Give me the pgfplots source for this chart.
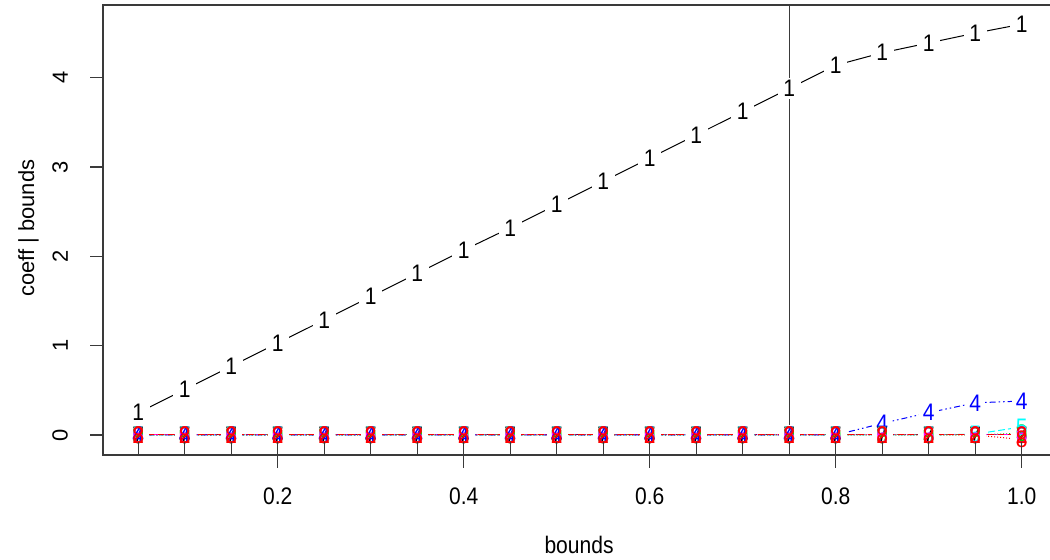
\documentclass[border=0pt]{standalone}
\usepackage{pgfplots}
\pgfplotsset{compat=1.18}
\usepackage{pgfplotstable}
\usepackage{fontspec}
\setmainfont{Liberation Sans}[Ligatures=NoCommon]
\newfontfamily\hf{Liberation Sans}[FakeStretch=0.88, Ligatures=NoCommon]
\definecolor{rgreen}{HTML}{00CD00}
\definecolor{rcyan}{HTML}{00FFFF}
\definecolor{rmag}{HTML}{FF00FF}
\definecolor{rred}{HTML}{FF0000}
\definecolor{rblue}{HTML}{0000FF}
\definecolor{axcol}{HTML}{3A3A3A}
\newcommand{\fs}{\fontsize{22}{26}\selectfont}
\newcommand{\hs}{\hf\fontsize{24}{28}\selectfont}

\pgfplotstableread{
x    s1   s2 s3   s4   s5   s6 s7 s8    s9
0.05 0.25 0  0    0    0    0  0  0     0
0.10 0.51 0  0    0    0    0  0  0     0
0.15 0.77 0  0    0    0    0  0  0     0
0.20 1.03 0  0    0    0    0  0  0     0
0.25 1.29 0  0    0    0    0  0  0     0
0.30 1.55 0  0    0    0    0  0  0     0
0.35 1.81 0  0    0    0    0  0  0     0
0.40 2.07 0  0    0    0    0  0  0     0
0.45 2.32 0  0    0    0    0  0  0     0
0.50 2.58 0  0    0    0    0  0  0     0
0.55 2.84 0  0    0    0    0  0  0     0
0.60 3.10 0  0    0    0    0  0  0     0
0.65 3.36 0  0    0    0    0  0  0     0
0.70 3.62 0  0    0    0    0  0  0     0
0.75 3.88 0  0    0    0    0  0  0     0
0.80 4.14 0  0    0    0    0  0  0     0
0.85 4.28 0  0    0.13 0    0  0  0     0
0.90 4.39 0  0    0.25 0    0  0  0     0
0.95 4.50 0  0    0.36 0.01 0  0  0     0
1.00 4.60 0  0.02 0.38 0.09 0  0  -0.05 0
}\data

\begin{document}
\begin{tikzpicture}
\begin{axis}[
  at={(103bp,105bp)}, anchor=south west,
  width=954bp, height=450bp, scale only axis,
  xmin=0.012, xmax=1.038, ymin=-0.224, ymax=4.815,
  axis line style={axcol, line width=1.3bp},
  xtick={0.2,0.4,0.6,0.8,1.0}, xticklabels={0.2,0.4,0.6,0.8,1.0},
  ytick={0,1,2,3,4}, yticklabels={0,1,2,3,4},
  tick align=outside, major tick length=13bp,
  every tick/.style={axcol, line width=1.3bp},
  xtick pos=bottom, ytick pos=left,
  ticklabel style={inner sep=0pt},
  xticklabel style={font=\hs, anchor=north, yshift=-20bp},
  yticklabel style={font=\fs, xshift=-22bp, rotate=90, anchor=south},
  xlabel={bounds}, ylabel={coeff | bounds},
  every axis x label/.style={at={(axis description cs:0.499,-0.2178)}, anchor=base, font=\hs},
  every axis y label/.style={at={(axis description cs:-0.0723,0.504)}, anchor=base, rotate=90, font=\fs},
  clip=false,
]
% lines of the series near zero
\addplot[black, line width=1bp, dashed, no marks] table[x=x,y=s7]{\data};
\addplot[rgreen, line width=1bp, dash pattern=on 1bp off 3bp on 4bp off 3bp, no marks] table[x=x,y=s9]{\data};
\addplot[rgreen, line width=1bp, dotted, no marks] table[x=x,y=s3]{\data};
\addplot[rcyan, line width=1bp, dash pattern=on 7bp off 3bp, no marks] table[x=x,y=s5]{\data};
\addplot[rblue, line width=1bp, dash pattern=on 1.5bp off 3bp on 1.5bp off 3bp on 6bp off 3bp, no marks] table[x=x,y=s4]{\data};
\addplot[rmag, line width=1bp, no marks] table[x=x,y=s6]{\data};
\addplot[rred, line width=1bp, dash pattern=on 6bp off 4bp, no marks] table[x=x,y=s2]{\data};
\addplot[rred, line width=1bp, dotted, no marks] table[x=x,y=s8]{\data};
% series 1 line
\addplot[black, line width=1bp, no marks] table[x=x,y=s1]{\data};
% white gaps around the cluster
\addplot[only marks, mark=square*, mark size=10bp, mark options={white, draw=white}] table[x=x,y=s2]{\data};
% blue 4 labels away from zero
\addplot[only marks, rblue, restrict x to domain=0.83:1.1, mark=text, text mark={4}, text mark as node=true,
  text mark style={font=\hs, fill=white, inner xsep=4bp, inner ysep=0pt}] table[x=x,y=s4]{\data};
% cluster digits
\addplot[only marks, rgreen, mark=text, text mark={9}, text mark as node=true, text mark style={font=\hs, inner sep=0pt}] table[x=x,y=s9]{\data};
\addplot[only marks, black, mark=text, text mark={7}, text mark as node=true, text mark style={font=\hs, inner sep=0pt}] table[x=x,y=s7]{\data};
\addplot[only marks, rgreen, mark=text, text mark={3}, text mark as node=true, text mark style={font=\hs, inner sep=0pt}] table[x=x,y=s3]{\data};
\addplot[only marks, rcyan, mark=text, text mark={5}, text mark as node=true, text mark style={font=\hs, inner sep=0pt}] table[x=x,y=s5]{\data};
\addplot[only marks, rmag, mark=text, text mark={6}, text mark as node=true, text mark style={font=\hs, inner sep=0pt}] table[x=x,y=s6]{\data};
\addplot[only marks, rblue, restrict x to domain=0:0.82, mark=text, text mark={4}, text mark as node=true, text mark style={font=\hs, inner sep=0pt}] table[x=x,y=s4]{\data};
\addplot[only marks, rred, mark=text, text mark={2}, text mark as node=true, text mark style={font=\hs, inner sep=0pt}] table[x=x,y=s2]{\data};
\addplot[only marks, rred, mark=text, text mark={8}, text mark as node=true, text mark style={font=\hs, inner sep=0pt}] table[x=x,y=s8]{\data};
% series 1 labels
\addplot[only marks, black, mark=text, text mark={1}, text mark as node=true,
  text mark style={font=\hs, fill=white, inner xsep=5.5bp, inner ysep=2.5bp}] table[x=x,y=s1]{\data};
% vertical reference line
\addplot[axcol, line width=1.3bp, no marks] coordinates {(0.75,-0.224) (0.75,4.815)};
% rug
\addplot[only marks, axcol, mark=|, mark size=6.75bp, mark options={line width=1.3bp}] coordinates {
(0.05,-0.1485)(0.10,-0.1485)(0.15,-0.1485)(0.20,-0.1485)(0.25,-0.1485)
(0.30,-0.1485)(0.35,-0.1485)(0.40,-0.1485)(0.45,-0.1485)(0.50,-0.1485)
(0.55,-0.1485)(0.60,-0.1485)(0.65,-0.1485)(0.70,-0.1485)(0.75,-0.1485)
(0.80,-0.1485)(0.85,-0.1485)(0.90,-0.1485)(0.95,-0.1485)(1.00,-0.1485)};
\end{axis}
\pgfresetboundingbox
\path[use as bounding box] (0,0) rectangle (1050bp,560bp);
\end{tikzpicture}
\end{document}
